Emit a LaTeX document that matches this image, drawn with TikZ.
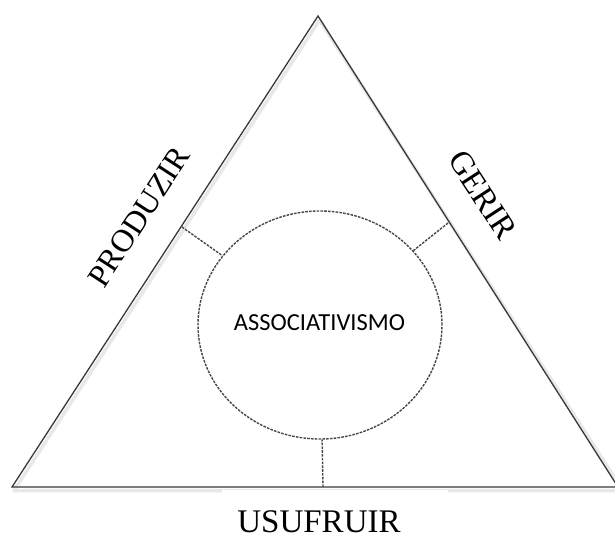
\documentclass[tikz,border=0pt]{standalone}
\usepackage{fontspec}
\setmainfont{Liberation Serif}
\newfontfamily\calib{Carlito}
\usetikzlibrary{shapes.geometric}
\tikzset{
  side/.style={draw=black!78, line width=1.3pt, line join=miter},
  shadowline/.style={draw=black!9, line width=3.5pt, line join=round},
  dashline/.style={draw=black!72, line width=1.4pt, dash pattern=on 2.6pt off 1.2pt},
  label/.style={font=\fontsize{32}{36}\selectfont, inner sep=0pt},
}
\begin{document}
\begin{tikzpicture}[x=1pt,y=-1pt]
\useasboundingbox (0,0) rectangle (615,535);
\fill[white] (0,0) rectangle (615,535);
% vertices
\coordinate (A) at (318,16);
\coordinate (B) at (12,487);
\coordinate (C) at (618,487);
% shadow
\draw[shadowline] (319.5,20) -- (14,490.5) -- (618,490.5);
\draw[shadowline] (319.5,20) -- (618,483);
\fill[white] (222,489.5) rectangle (448,497);
% triangle
\draw[side] (A) -- (B) -- (C) -- cycle;
% circle
\node[ellipse, dashline, minimum width=244pt, minimum height=228pt, inner sep=0pt] (assoc) at (320,325) {};
\node[font=\calib\fontsize{24.5}{28}\selectfont, inner sep=0pt] (assoctext) at (319.5,323) {ASSOCIATIVISMO};
% connector ends on sides
\coordinate (p1) at (182,227);
\coordinate (p2) at (448,223);
\coordinate (p3) at (323,487);
\draw[dashline] (p1) -- (assoc);
\draw[dashline] (p2) -- (assoc);
\draw[dashline] (p3) -- (assoc);
% labels
\node[label, rotate=57] (produzir) at (139,217) {PRODUZIR};
\node[label, rotate=-57, font=\fontsize{33}{36}\selectfont] (gerir) at (483,195) {GERIR};
\node[label, anchor=base, font=\fontsize{33}{36}\selectfont] (usufruir) at (319,532) {USUFRUIR};
\end{tikzpicture}
\end{document}
